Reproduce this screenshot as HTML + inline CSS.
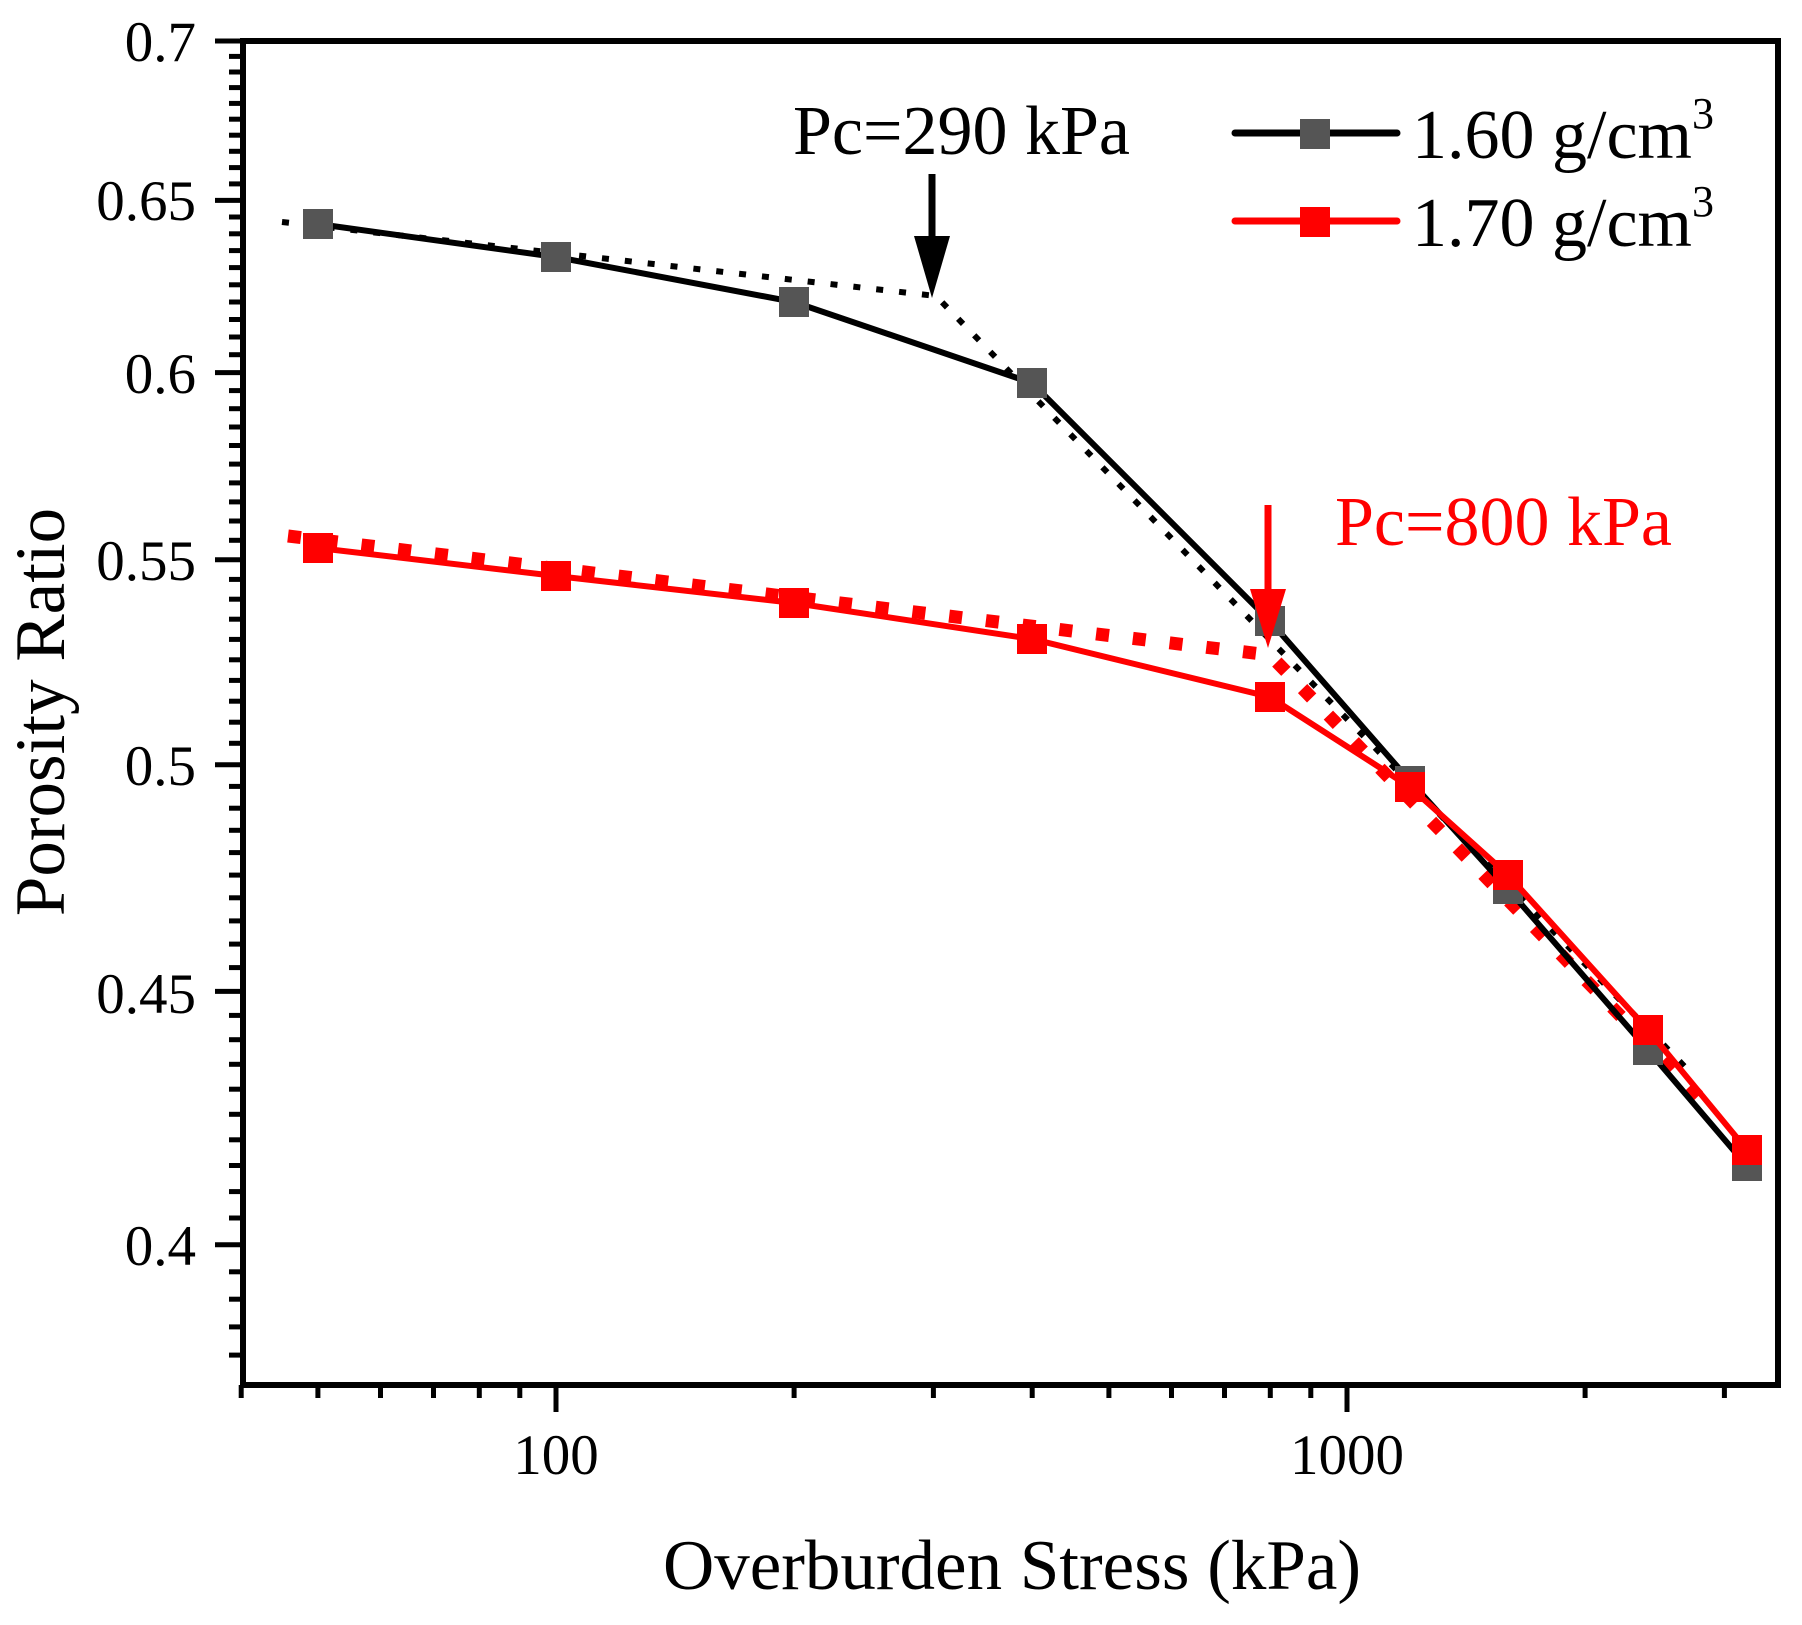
<!DOCTYPE html>
<html><head><meta charset="utf-8"><style>
html,body{margin:0;padding:0;background:#fff}
svg{display:block}
text{font-family:"Liberation Serif",serif}
</style></head><body>
<svg id="s" width="1802" height="1625" viewBox="0 0 1802 1625" xmlns="http://www.w3.org/2000/svg">
<rect width="1802" height="1625" fill="#fff"/>
<g id="ticks" stroke="#000" stroke-width="5"></g>
<rect x="243" y="41" width="1535" height="1344" fill="none" stroke="#000" stroke-width="6"/>
<g font-size="57" text-anchor="end" fill="#000">
<text x="196" y="61">0.7</text>
<text x="196" y="220">0.65</text>
<text x="196" y="393">0.6</text>
<text x="196" y="580">0.55</text>
<text x="196" y="785">0.5</text>
<text x="196" y="1013">0.45</text>
<text x="196" y="1265">0.4</text>
</g>
<g font-size="57" text-anchor="middle" fill="#000">
<text x="556" y="1474">100</text>
<text x="1347" y="1474">1000</text>
</g>
<text x="1012" y="1589" font-size="71" text-anchor="middle">Overburden Stress (kPa)</text>
<text transform="translate(64,712) rotate(-90)" font-size="71" text-anchor="middle">Porosity Ratio</text>

<polyline points="282,222 936,296 1689,1071" fill="none" stroke="#000" stroke-width="6" stroke-dasharray="7 16"/>
<polyline points="288,536 1270,655 1707,1105" fill="none" stroke="#f00" stroke-width="13" stroke-dasharray="13 24"/>

<polyline points="318,224 556,257 794,302 1032,383 1270,621 1410,781 1508,889 1648,1050 1747,1166" fill="none" stroke="#000" stroke-width="6"/>
<g fill="#555">
<rect x="303" y="209" width="30" height="30"/><rect x="541" y="242" width="30" height="30"/><rect x="779" y="287" width="30" height="30"/><rect x="1017" y="368" width="30" height="30"/><rect x="1255" y="606" width="30" height="30"/><rect x="1395" y="766" width="30" height="30"/><rect x="1493" y="874" width="30" height="30"/><rect x="1633" y="1035" width="30" height="30"/><rect x="1732" y="1151" width="30" height="30"/>
</g>
<polyline points="318,548 556,576 794,603 1032,639 1270,697 1410,787 1508,875 1648,1030 1747,1150" fill="none" stroke="#f00" stroke-width="6"/>
<g fill="#f00">
<rect x="303" y="533" width="30" height="30"/><rect x="541" y="561" width="30" height="30"/><rect x="779" y="588" width="30" height="30"/><rect x="1017" y="624" width="30" height="30"/><rect x="1255" y="682" width="30" height="30"/><rect x="1395" y="772" width="30" height="30"/><rect x="1493" y="860" width="30" height="30"/><rect x="1633" y="1015" width="30" height="30"/><rect x="1732" y="1135" width="30" height="30"/>
</g>

<line x1="932" y1="174" x2="932" y2="260" stroke="#000" stroke-width="7"/>
<polygon points="914,236 950,236 932,298" fill="#000"/>
<text x="793" y="154" font-size="70">Pc=290 kPa</text>
<line x1="1268" y1="505" x2="1268" y2="600" stroke="#f00" stroke-width="7"/>
<polygon points="1250,589 1286,589 1268,648" fill="#f00"/>
<text x="1335" y="545" font-size="70" fill="#f00">Pc=800 kPa</text>

<line x1="1235" y1="133" x2="1397" y2="133" stroke="#000" stroke-width="7" stroke-linecap="round"/>
<rect x="1300" y="119" width="30" height="30" fill="#555"/>
<line x1="1235" y1="221" x2="1397" y2="221" stroke="#f00" stroke-width="7" stroke-linecap="round"/>
<rect x="1300" y="207" width="30" height="30" fill="#f00"/>
<text x="1412" y="158" font-size="70">1.60 g/cm<tspan font-size="44" dy="-30">3</tspan></text>
<text x="1412" y="246" font-size="70">1.70 g/cm<tspan font-size="44" dy="-30">3</tspan></text>
</svg>
<script>
(function(){
var g=document.getElementById('ticks'),h='';
function Y(v){return 41+2151*Math.log(0.7/v);}
function X(v){return 556+791*Math.log10(v/100);}
for(var i=0;i<=64;i++){var v=0.38+i*0.005;if(v>0.7001)break;var y=Y(v);
 var major=Math.abs((v*100)%5)<0.01||Math.abs((v*100)%5-5)<0.01;
 h+='<line x1="'+(major?215:229)+'" y1="'+y.toFixed(1)+'" x2="243" y2="'+y.toFixed(1)+'"/>';}
var xs=[40,50,60,70,80,90,100,200,300,400,500,600,700,800,900,1000,2000,3000];
xs.forEach(function(v){var x=X(v);var major=(v==100||v==1000);
 h+='<line x1="'+x.toFixed(1)+'" y1="1385" x2="'+x.toFixed(1)+'" y2="'+(major?1412:1398)+'"/>';});
g.innerHTML=h;
})();
</script>
</body></html>
